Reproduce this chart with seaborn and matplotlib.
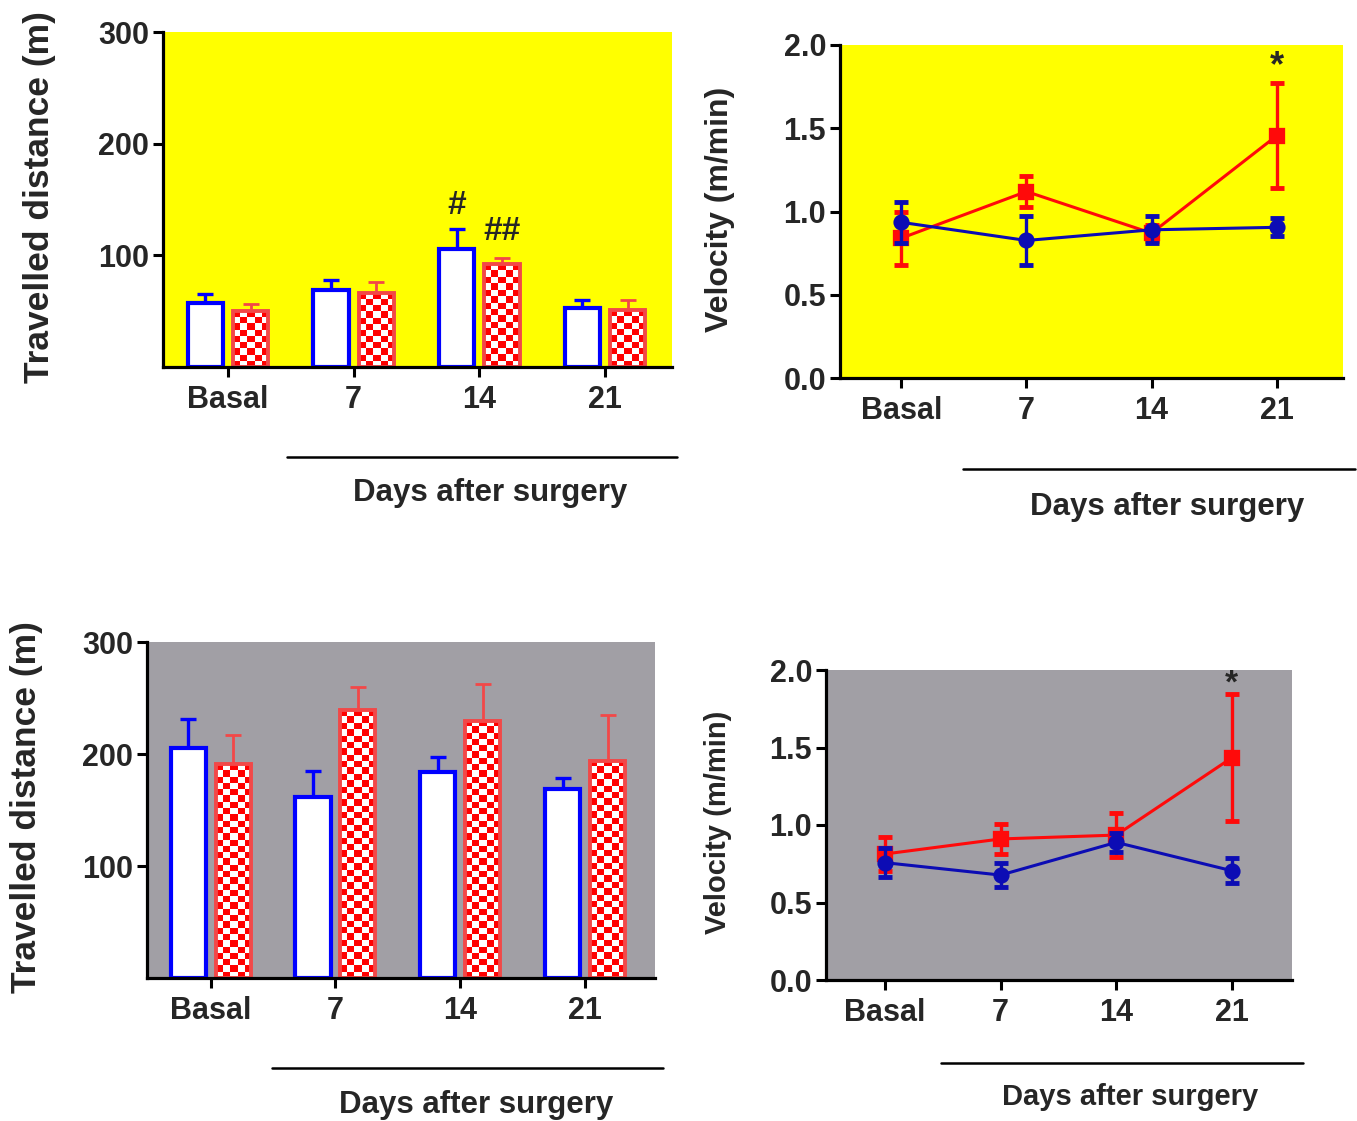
import numpy as np
import pandas as pd
import matplotlib
matplotlib.use("Agg")
import matplotlib.pyplot as plt
from matplotlib.lines import Line2D
import seaborn as sns

# ---------------- data ----------------
days = ["Basal", "7", "14", "21"]
group_names = ["Group 1", "Group 2"]          # blue (open), red (checkered)

# top-left: travelled distance (yellow panel)
distA_blue = [57, 69, 106, 53]
distA_blue_sem = [8, 9, 18, 7]
distA_red = [50, 66, 92, 51]
distA_red_sem = [6, 10, 6, 9]

# bottom-left: travelled distance (grey panel)
distC_blue = [205, 161.5, 183.5, 169]
distC_blue_sem = [26, 23, 14, 9.5]
distC_red = [191, 239, 229.5, 194]
distC_red_sem = [26, 21, 33, 41]

# top-right: velocity (yellow panel)
velB_blue = [0.935, 0.826, 0.89, 0.905]
velB_blue_sem = [0.125, 0.145, 0.08, 0.055]
velB_red = [0.84, 1.12, 0.87, 1.455]
velB_red_sem = [0.16, 0.095, 0.05, 0.315]

# bottom-right: velocity (grey panel)
velD_blue = [0.757, 0.677, 0.888, 0.705]
velD_blue_sem = [0.095, 0.075, 0.06, 0.08]
velD_red = [0.813, 0.91, 0.935, 1.434]
velD_red_sem = [0.11, 0.095, 0.14, 0.41]

dist_ticks = [100, 200, 300]
vel_ticks = [0.0, 0.5, 1.0, 1.5, 2.0]

# ---------------- style ----------------
sns.set_style("ticks")
plt.rcParams["font.family"] = ["Liberation Sans", "DejaVu Sans"]
plt.rcParams["font.weight"] = "bold"

YELLOW = "#FFFF00"
GREY = "#A19FA5"
BLUE_BAR = "#0000FF"
RED_BAR_EDGE = "#F24848"
BLUE_LINE = "#0C0CB4"
RED_LINE = "#FF0A0A"
TICK_SIZE = 22

W, H = 1357, 1121
fig = plt.figure(figsize=(W / 100, H / 100), dpi=100)


def add_ax(l, r, t, b):
    return fig.add_axes([l / W, 1 - b / H, (r - l) / W, (b - t) / H])


def style_axes(ax, bg, xlim, ylim, yticks, yfmt, ylabel, ylab_size, lab_xy):
    ax.set_facecolor(bg)
    ax.set_xlim(*xlim)
    ax.set_ylim(*ylim)
    ax.set_yticks(yticks)
    ax.set_yticklabels([yfmt.format(v) for v in yticks])
    for s in ["top", "right"]:
        ax.spines[s].set_visible(False)
    for s in ["left", "bottom"]:
        ax.spines[s].set_linewidth(2.3)
        ax.spines[s].set_color("black")
        ax.spines[s].set_zorder(10)
    ax.tick_params(axis="both", direction="out", length=7, width=2.2,
                   labelsize=TICK_SIZE, color="black")
    ax.tick_params(axis="y", pad=3)
    ax.tick_params(axis="x", pad=6)
    ax.set_xlabel("")
    ax.set_ylabel(ylabel, fontsize=ylab_size, fontweight="bold", va="center")
    ax.yaxis.set_label_coords(*lab_xy)
    for lab in ax.get_xticklabels() + ax.get_yticklabels():
        lab.set_fontweight("bold")


def bar_panel(ax, blue, blue_e, red, red_e, bg, xlim, lab_size, lab_xy):
    df = pd.DataFrame({
        "day": days * 2,
        "value": blue + red,
        "group": [group_names[0]] * len(days) + [group_names[1]] * len(days),
    })
    sns.barplot(data=df, x="day", y="value", hue="group", order=days,
                hue_order=group_names, palette=["white", "white"], saturation=1,
                width=0.72, gap=0.22, errorbar=None, legend=False, ax=ax)
    style_axes(ax, bg, xlim, (0, 300), dist_ticks, "{:.0f}",
               "Travelled distance (m)", lab_size, lab_xy)

    bars = [p for p in ax.patches]
    blue_p = sorted([p for p in bars if (p.get_x() + p.get_width() / 2) % 1 > 0.5],
                    key=lambda p: p.get_x())
    red_p = sorted([p for p in bars if (p.get_x() + p.get_width() / 2) % 1 < 0.5],
                   key=lambda p: p.get_x())

    for p in blue_p:
        p.set_facecolor("white")
        p.set_edgecolor(BLUE_BAR)
        p.set_linewidth(3.0)
        p.set_zorder(4)
    fig.canvas.draw()
    for p in red_p:
        p.set_facecolor("none")
        p.set_edgecolor(RED_BAR_EDGE)
        p.set_linewidth(2.8)
        p.set_zorder(4)
        x0, y0 = p.get_x(), p.get_y()
        x1, y1 = x0 + p.get_width(), y0 + p.get_height()
        (px0, py0), (px1, py1) = ax.transData.transform([(x0, y0), (x1, y1)])
        ncol = max(2, int(round(abs(px1 - px0) / 6.5)))
        nrow = max(2, int(round(abs(py1 - py0) / 6.3)))
        ii, jj = np.meshgrid(np.arange(nrow), np.arange(ncol), indexing="ij")
        mask = (ii + jj) % 2 == 0
        img = np.ones((nrow, ncol, 3))
        img[mask] = [1.0, 0.0, 0.0]
        im = ax.imshow(img, extent=(x0, x1, y0, y1), origin="upper",
                       aspect="auto", interpolation="nearest", zorder=3.5)
        im.set_clip_path(p)
    ax.set_xlim(*xlim)
    ax.set_ylim(0, 300)

    bx = [p.get_x() + p.get_width() / 2 for p in blue_p]
    bt = [p.get_height() for p in blue_p]
    rx = [p.get_x() + p.get_width() / 2 for p in red_p]
    rt = [p.get_height() for p in red_p]
    ax.errorbar(bx, bt, yerr=[[0] * len(bt), blue_e], fmt="none", ecolor=BLUE_BAR,
                elinewidth=2.4, capsize=6, capthick=2.4, zorder=3)
    ax.errorbar(rx, rt, yerr=[[0] * len(rt), red_e], fmt="none", ecolor=RED_BAR_EDGE,
                elinewidth=2.0, capsize=6, capthick=2.0, zorder=3)
    return bx, bt, rx, rt


def line_panel(ax, blue, blue_e, red, red_e, bg, xlim, lab_size, lab_xy):
    df = pd.DataFrame({
        "day": days * 2,
        "value": red + blue,
        "group": [group_names[1]] * len(days) + [group_names[0]] * len(days),
    })
    sns.pointplot(data=df, x="day", y="value", hue="group", order=days,
                  hue_order=[group_names[1], group_names[0]],
                  palette=[RED_LINE, BLUE_LINE], markers=["s", "o"],
                  linestyles=["-", "-"], errorbar=None, legend=False, ax=ax,
                  markersize=10, linewidth=2.2)
    style_axes(ax, bg, xlim, (0, 2.0), vel_ticks, "{:.1f}",
               "Velocity (m/min)", lab_size, lab_xy)
    lines = [l for l in ax.lines if len(l.get_xdata()) == len(days)]
    red_line, blue_line = lines[0], lines[1]
    xs = np.asarray(red_line.get_xdata(), dtype=float)
    red_line.set_zorder(3.2)
    blue_line.set_zorder(3.6)
    ax.errorbar(xs, red, yerr=red_e, fmt="none", ecolor=RED_LINE, elinewidth=2.4,
                capsize=5, capthick=3.5, zorder=3.1)
    ax.errorbar(xs, blue, yerr=blue_e, fmt="none", ecolor=BLUE_LINE, elinewidth=2.4,
                capsize=5, capthick=3.5, zorder=3.5)
    return xs


def days_label(x0, x1, yline, xtext, ytext, size):
    fig.add_artist(Line2D([x0 / W, x1 / W], [1 - yline / H, 1 - yline / H],
                          transform=fig.transFigure, color="black", lw=1.8))
    fig.text(xtext / W, 1 - ytext / H, "Days after surgery", ha="center",
             va="center", fontsize=size, fontweight="bold")


# ---------- top-left ----------
axA = add_ax(163, 672, 32, 367)
bx, bt, rx, rt = bar_panel(axA, distA_blue, distA_blue_sem, distA_red, distA_red_sem,
                           YELLOW, (-0.517, 3.533), 25.5, (-0.242, 0.507))
axA.text(bx[2], 145, "#", ha="center", va="center", fontsize=24, fontweight="bold")
axA.text(rx[2], 121, "##", ha="center", va="center", fontsize=24, fontweight="bold")
days_label(287, 677, 457, 490, 493, 22.5)

# ---------- top-right ----------
axB = add_ax(840, 1343, 45, 378)
xs = line_panel(axB, velB_blue, velB_blue_sem, velB_red, velB_red_sem,
                YELLOW, (-0.49, 3.53), 23, (-0.239, 0.506))
axB.text(xs[3], 1.87, "*", ha="center", va="center", fontsize=26, fontweight="bold")
days_label(963, 1355, 469, 1167, 507, 22.5)

# ---------- bottom-left ----------
axC = add_ax(147, 655, 642, 978)
bar_panel(axC, distC_blue, distC_blue_sem, distC_red, distC_red_sem,
          GREY, (-0.51, 3.56), 25.5, (-0.238, 0.509))
days_label(272, 663, 1068, 476, 1105, 22.5)

# ---------- bottom-right ----------
axD = add_ax(826, 1292, 670, 980)
xs = line_panel(axD, velD_blue, velD_blue_sem, velD_red, velD_red_sem,
                GREY, (-0.51, 3.52), 21, (-0.232, 0.508))
axD.text(xs[3], 1.91, "*", ha="center", va="center", fontsize=24, fontweight="bold")
days_label(941, 1303, 1063, 1130, 1097, 21)

fig.savefig("out.png", dpi=100)
